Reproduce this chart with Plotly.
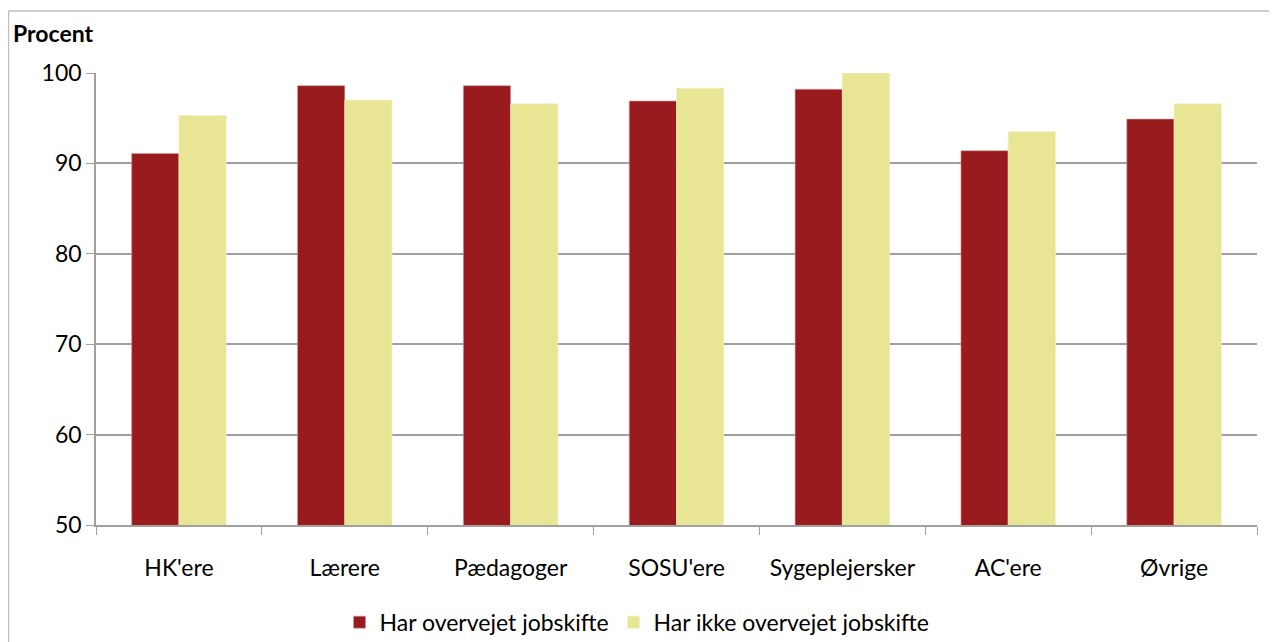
import plotly.graph_objects as go

# Data
kategorier = ["HK'ere", "Lærere", "Pædagoger", "SOSU'ere", "Sygeplejersker", "AC'ere", "Øvrige"]
overvejet = [91.1, 98.6, 98.6, 96.9, 98.2, 91.4, 94.9]
ikke_overvejet = [95.3, 97.0, 96.6, 98.3, 100.0, 93.5, 96.6]
y_ticks = [50, 60, 70, 80, 90, 100]

font_family = "Lato, 'Open Sans', sans-serif"

fig = go.Figure()

fig.add_trace(go.Bar(
    x=kategorier,
    y=overvejet,
    name='Har overvejet jobskifte',
    marker=dict(color='#991B1E', line=dict(color='#C9A0A0', width=0.6)),
))

fig.add_trace(go.Bar(
    x=kategorier,
    y=ikke_overvejet,
    name='Har ikke overvejet jobskifte',
    marker=dict(color='#E8E594', line=dict(color='#F2F0C8', width=0.6)),
))

# Diagramkant (grå ramme)
fig.add_shape(
    type='rect', xref='paper', yref='paper',
    x0=-0.0754, x1=1.05, y0=-0.4, y1=1.137,
    line=dict(color='#BFBFBF', width=1.5),
    layer='below',
)

fig.add_annotation(
    text='<b>Procent</b>', xref='paper', yref='paper',
    x=-0.073, y=1.088, xanchor='left', yanchor='middle',
    showarrow=False, font=dict(family=font_family, size=23, color='#000000'),
)

# siden har 8px margin, derfor er figuren lidt mindre end vinduet
fig.update_layout(
    width=1269,
    height=634,
    margin=dict(l=88, r=20, t=65, b=117, autoexpand=False),
    plot_bgcolor='white',
    paper_bgcolor='white',
    barmode='group',
    bargap=0.43,
    bargroupgap=0,
    font=dict(family=font_family, size=23, color='#000000'),
    showlegend=True,
    legend=dict(
        orientation='h', x=0.466, y=-0.215, xanchor='center', yanchor='middle',
        font=dict(size=23), itemwidth=30, tracegroupgap=0,
    ),
    xaxis=dict(
        showline=True, linecolor='#A0A0A0', linewidth=1.5,
        ticks='outside', tickson='boundaries', ticklen=8, tickcolor='#A0A0A0',
        tickfont=dict(size=23), showgrid=False, ticklabelstandoff=22,
        automargin=False,
    ),
    yaxis=dict(
        range=[50, 100], tickvals=y_ticks,
        showline=True, linecolor='#A0A0A0', linewidth=1.5,
        ticks='outside', ticklen=8, tickcolor='#A0A0A0',
        showgrid=True, gridcolor='#A0A0A0', gridwidth=1.5,
        tickfont=dict(size=23), zeroline=False, automargin=False,
    ),
)

fig.write_html("out.html")
